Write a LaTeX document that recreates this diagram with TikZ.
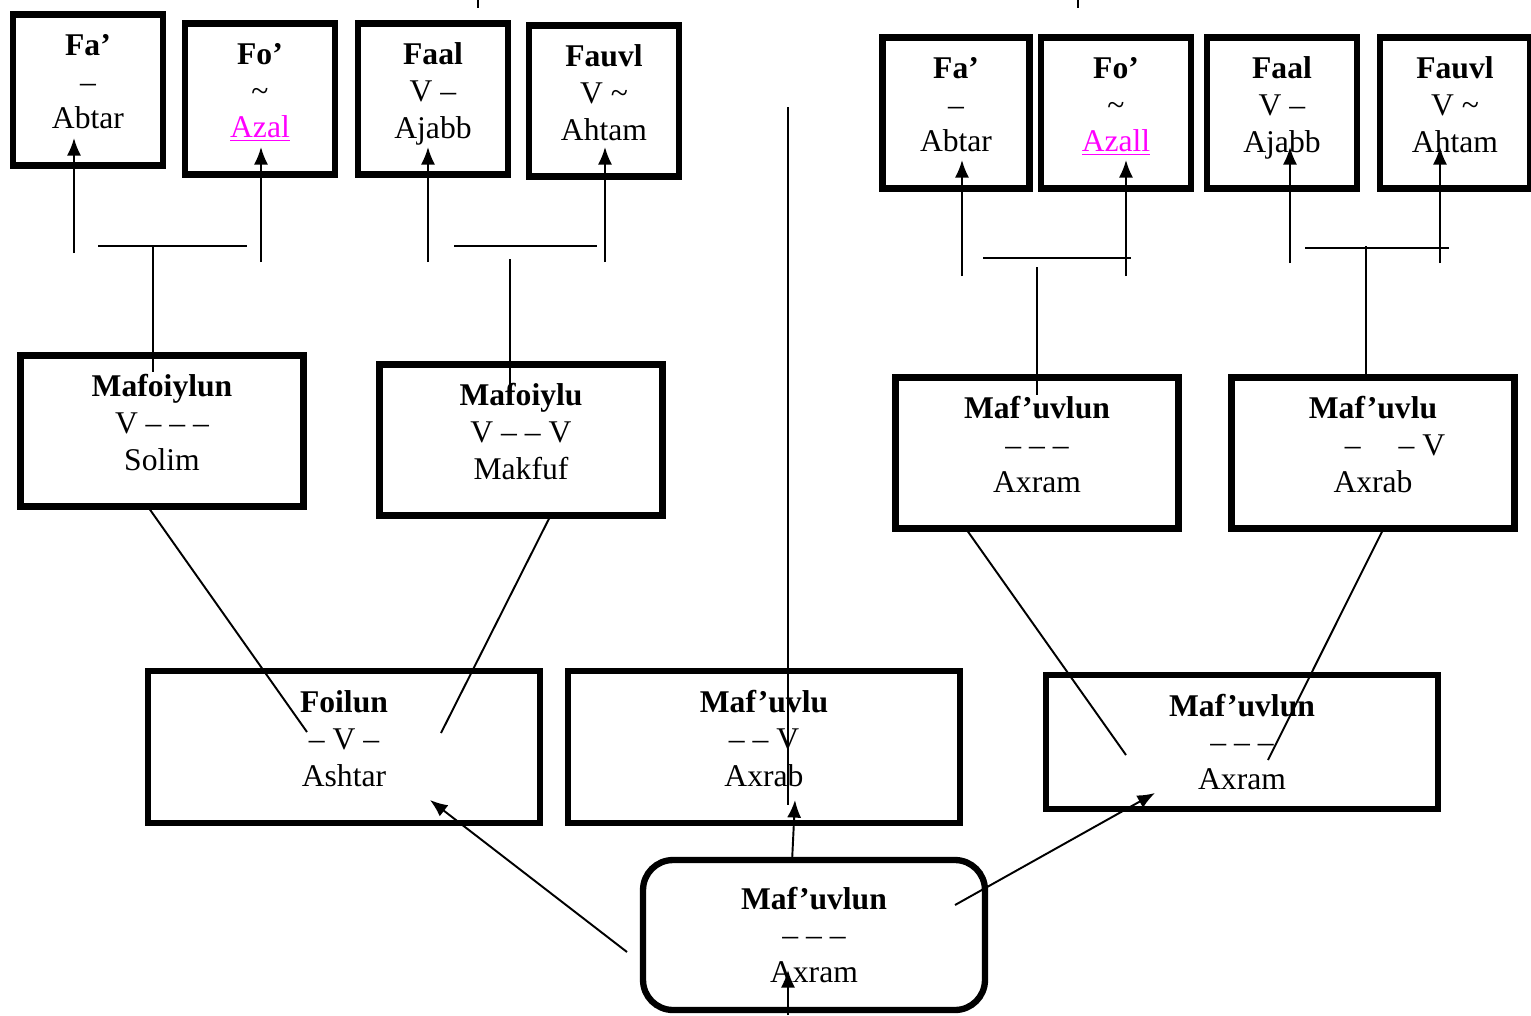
\documentclass[tikz,border=0pt]{standalone}
\usepackage{fontspec}
\setmainfont{Liberation Serif}
\usetikzlibrary{arrows.meta}
\definecolor{linkpink}{RGB}{255,0,255}

\begin{document}
\begin{tikzpicture}[
		x=0.02cm, y=-0.02cm,
		cell/.style={
			draw,
			line width=3.6pt,
			align=center,
			inner sep=0pt,
			font=\fontsize{18}{21}\selectfont
		},
		lift/.style={text depth=0.34cm},
		small/.style={cell, lift, minimum width=3.0cm, minimum height=3.02cm},
		mid/.style={cell, lift, minimum width=5.66cm, minimum height=3.02cm},
		wide/.style={cell, minimum width=7.84cm, minimum height=3.04cm},
		link/.style={line width=1.1pt},
		>={Latex[length=10pt,width=8pt]}
		]
		\useasboundingbox (0,0) rectangle (1531,1015);
		
		% upper row, left
		\node[small] (fa1) at (88,90) {\textbf{Fa’}\\–\\Abtar};
		\node[small] (fo1) at (260,99) {\textbf{Fo’}\\\textasciitilde\\\textcolor{linkpink}{\underline{Azal}}};
		\node[small] (faal1) at (433,99) {\textbf{Faal}\\V –\\Ajabb};
		\node[small] (fauvl1) at (604,101) {\textbf{Fauvl}\\V \textasciitilde\\Ahtam};
		
		% upper row, right
		\node[small, minimum width=2.94cm] (fa2) at (956,113) {\textbf{Fa’}\\–\\Abtar};
		\node[small] (fo2) at (1116,113) {\textbf{Fo’}\\\textasciitilde\\\textcolor{linkpink}{\underline{Azall}}};
		\node[small] (faal2) at (1282,113) {\textbf{Faal}\\V –\\Ajabb};
		\node[small] (fauvl2) at (1455,113) {\textbf{Fauvl}\\V \textasciitilde\\Ahtam};
		
		% middle row
		\node[mid] (mafoiylun) at (162,431) {\textbf{Mafoiylun}\\V – – –\\Solim};
		\node[mid] (mafoiylu) at (521,440) {\textbf{Mafoiylu}\\V – – V\\Makfuf};
		\node[mid] (mafuvlun1) at (1037,453) {\textbf{Maf’uvlun}\\– – –\\Axram};
		\node[mid] (mafuvlu1) at (1373,453) {\textbf{Maf’uvlu}\\\hspace*{1.4em}–\hspace{1.2em}– V\\Axrab};
		
		% lower row
		\node[wide, lift] (foilun) at (344,747) {\textbf{Foilun}\\– V –\\Ashtar};
		\node[wide, lift] (mafuvlu2) at (764,747) {\textbf{Maf’uvlu}\\– – V\\Axrab};
		\node[wide, minimum height=2.68cm] (mafuvlun2) at (1242,742) {\textbf{Maf’uvlun}\\– – –\\Axram};
		\node[cell, rounded corners=0.6cm, minimum width=6.84cm, minimum height=3.0cm] (root) at (814,935)
			{\textbf{Maf’uvlun}\\– – –\\Axram};
		
		% free ends
		\foreach \n/\x/\y in {t1/74/253, t2/261/262, t3/428/262, t4/605/262,
			t5/962/276, t6/1126/276, t7/1290/263, t8/1440/263}
		\coordinate (\n) at (\x,\y);
		\foreach \n/\x/\y in {h1/74/138, h2/261/147, h3/428/147, h4/605/147,
			h5/962/160, h6/1126/160, h7/1290/147, h8/1440/147}
		\coordinate (\n) at (\x,\y);
		
		\foreach \i in {1,...,8}
		\draw[link,->] (t\i) -- (h\i);
		
		% joins
		\draw[link] (98,246) -- (247,246);
		\draw[link] (153,246) -- (153,372);
		\draw[link] (454,246) -- (597,246);
		\draw[link] (510,259) -- (510,385);
		\draw[link] (983,258) -- (1131,258);
		\draw[link] (1037,267) -- (1037,395);
		\draw[link] (1305,248) -- (1449,248);
		\draw[link] (1366,246) -- (1366,375);
		
		% down to the lower row
		\coordinate (d1) at (307,732);
		\coordinate (d2) at (441,733);
		\coordinate (d3) at (1126,755);
		\coordinate (d4) at (1268,760);
		\draw[link] (mafoiylun.south -| 150,0) -- (d1);
		\draw[link] (mafoiylu.south -| 549,0) -- (d2);
		\draw[link] (mafuvlun1.south -| 968,0) -- (d3);
		\draw[link] (mafuvlu1.south -| 1382,0) -- (d4);
		
		% from the root
		\coordinate (r1) at (627,952);
		\coordinate (r2) at (792,862);
		\coordinate (r3) at (955,905);
		\coordinate (r4) at (788,1015);
		\draw[link,->] (r1) -- (430,800);
		\draw[link,->] (r2) -- (795,800);
		\draw[link,->] (r3) -- (1155,793);
		\draw[link,->] (r4) -- (788,970);
		
		% long line and ticks
		\draw[link] (788,107) -- (788,805);
		\draw[link] (478,0) -- (478,8);
		\draw[link] (1078,0) -- (1078,8);
		
	\end{tikzpicture}
\end{document}
